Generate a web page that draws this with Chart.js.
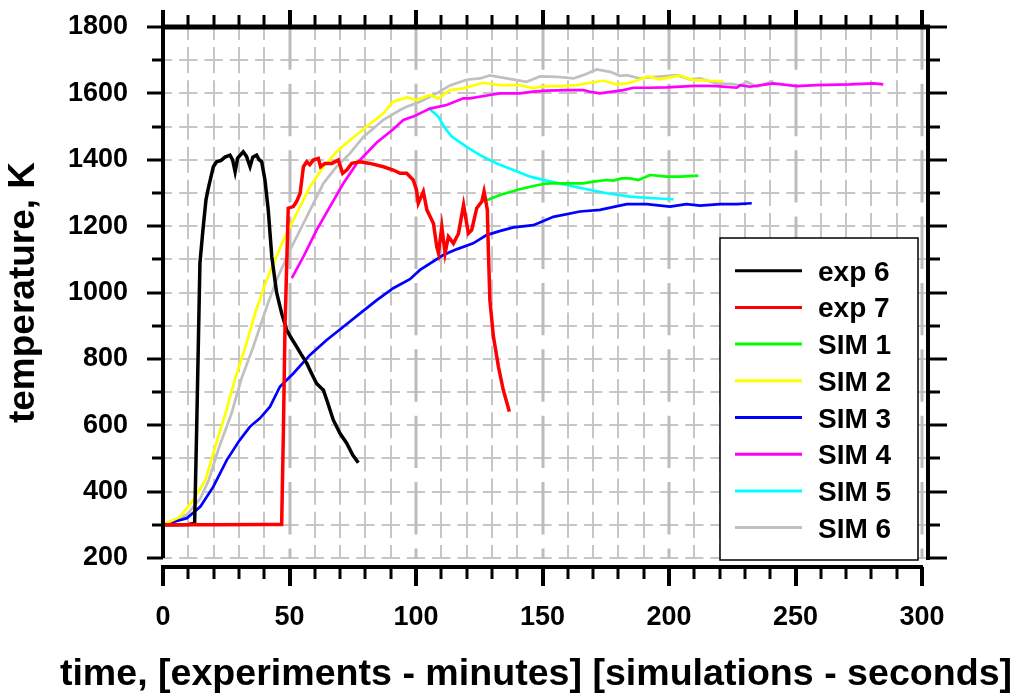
<!DOCTYPE html>
<html>
<head>
<meta charset="utf-8">
<title>temperature vs time</title>
<script src="https://cdn.jsdelivr.net/npm/chart.js@4.4.0/dist/chart.umd.min.js"></script>
<style>
    html, body { margin: 0; padding: 0; background: #fff; }
    #wrap { width: 1021px; height: 698px; position: relative; }
</style>
</head>
<body>
<div id="wrap"><canvas id="tempChart"></canvas></div>
<script>
    // Series (time, temperature K)
    const exp6Time = [0, 5, 10, 12.5, 13.3, 14.6, 15.9, 17, 17.9, 19.9, 21.2, 23, 24.5, 26.5, 27.5, 28.5, 29.5, 31.7, 33, 34.4, 35.5, 37, 38, 39, 40.3, 41.6, 43, 44.9, 46.9, 48.9, 50.5, 52.8, 54.5, 56.8, 58.5, 60.7, 62.5, 63.4, 65, 67.3, 70, 72.6, 75, 77.2];
    const exp6Temp = [300, 300, 301, 304, 586, 1089, 1198, 1280, 1314, 1379, 1394, 1398, 1408, 1414, 1400, 1364, 1405, 1424, 1410, 1379, 1408, 1414, 1400, 1394, 1339, 1249, 1108, 1000, 937, 887, 865, 837, 815, 787, 760, 726, 712, 706, 670, 616, 575, 546, 510, 487];

    const exp7Time = [0, 20, 40, 46.9, 47.6, 48.2, 49.5, 51.5, 52.8, 54.2, 55.5, 56.8, 58, 59.4, 61.4, 62.3, 64, 66.7, 69.3, 71, 72.6, 74.6, 77.9, 81.8, 87.1, 91, 93.7, 96.3, 98.9, 100.2, 100.9, 102.9, 104.3, 106.9, 108.2, 108.9, 110.2, 111.5, 112.8, 114.8, 116.8, 118.8, 120.7, 122, 124, 126, 126.9, 128.2, 128.6, 129.2, 130.6, 132.6, 134.5, 136.9];
    const exp7Temp = [300, 300, 301, 301, 586, 887, 1254, 1259, 1274, 1299, 1379, 1394, 1385, 1399, 1404, 1379, 1389, 1389, 1399, 1359, 1369, 1389, 1394, 1389, 1379, 1369, 1359, 1359, 1339, 1309, 1269, 1304, 1249, 1208, 1138, 1118, 1198, 1118, 1168, 1148, 1178, 1264, 1178, 1188, 1254, 1274, 1304, 1249, 1128, 977, 867, 776, 706, 641];

    const sim1Time = [126.6, 133.2, 139.8, 146.4, 150.3, 153, 162.2, 166.1, 170.1, 175.4, 178, 181.3, 184.6, 188, 192.5, 199.1, 204.3, 211.6];
    const sim1Temp = [1274, 1294, 1309, 1321, 1327, 1329, 1329, 1329, 1334, 1339, 1337, 1344, 1344, 1339, 1354, 1349, 1349, 1352];

    const sim2Time = [0, 6.7, 12, 16.8, 20, 24.7, 28.5, 32.6, 36.5, 41, 47.6, 52.8, 58.1, 63.4, 68.6, 73.9, 79.2, 87.1, 91, 96.3, 100.2, 105.5, 108.8, 113.4, 118.7, 126.6, 133.2, 137.2, 141.1, 146.4, 149, 153, 156.9, 163.5, 171.4, 174, 179.3, 183.3, 185.9, 191.8, 196.4, 204.3, 209.6, 212.3, 216.2, 221.5];
    const sim2Temp = [300, 324, 375, 435, 520, 636, 740, 837, 940, 1038, 1158, 1238, 1319, 1379, 1424, 1459, 1492, 1540, 1575, 1588, 1580, 1595, 1585, 1610, 1615, 1632, 1625, 1625, 1625, 1615, 1620, 1622, 1622, 1625, 1635, 1638, 1627, 1630, 1635, 1651, 1642, 1654, 1640, 1640, 1638, 1637];

    const sim3Time = [0, 9.4, 14.8, 19.9, 25.2, 30.4, 34.4, 38.3, 42.3, 46.2, 51.5, 58.1, 64.7, 71.3, 77.9, 84.5, 91, 97.6, 101.6, 110.8, 116, 122.6, 127.9, 133, 138.5, 146.4, 154.3, 164.8, 172.7, 183.3, 191.2, 200.4, 206.9, 212.3, 220.2, 226.8, 232.7];
    const sim3Temp = [300, 320, 355, 415, 495, 556, 596, 621, 656, 716, 756, 812, 857, 897, 937, 977, 1013, 1040, 1068, 1113, 1130, 1148, 1173, 1185, 1196, 1203, 1228, 1244, 1249, 1266, 1266, 1259, 1266, 1262, 1266, 1266, 1269];

    const sim4Time = [50.9, 55.5, 60.7, 66, 71.3, 76.6, 84.5, 91, 95, 98.9, 105.5, 112.1, 118.7, 121.3, 129.2, 133.2, 141.1, 146.4, 151.6, 159.6, 166.1, 168.8, 172.7, 181.9, 185.9, 192.5, 199.1, 208.3, 212.3, 218.8, 226.8, 228.1, 232, 241.2, 250.5, 258.4, 271.5, 280.8, 284.7];
    const sim4Temp = [1043, 1108, 1188, 1259, 1329, 1389, 1452, 1492, 1520, 1530, 1554, 1565, 1585, 1585, 1595, 1600, 1600, 1605, 1608, 1610, 1610, 1605, 1600, 1610, 1617, 1617, 1618, 1622, 1623, 1622, 1617, 1625, 1620, 1630, 1622, 1625, 1627, 1630, 1627];

    const sim5Time = [105.5, 108.8, 111.5, 114.1, 120, 125.3, 131.9, 138.5, 145.1, 151.6, 159.6, 167.5, 175.4, 184.6, 193.8, 201.8];
    const sim5Temp = [1552, 1530, 1495, 1470, 1439, 1414, 1389, 1369, 1349, 1337, 1324, 1311, 1299, 1289, 1284, 1281];

    const sim6Time = [0, 9.4, 14.8, 18.1, 22, 27.1, 31, 35.7, 41, 44.9, 50.2, 56.8, 63.4, 68.6, 73.9, 79.2, 87.1, 93.7, 96.3, 101.6, 105.5, 108.2, 113.4, 120, 125.3, 129.2, 135.8, 143.7, 149, 155.6, 162.2, 166.1, 171.4, 176.7, 180.6, 183.3, 188.5, 195.1, 203, 208.3, 212.3, 218.8, 225.4, 228.1, 230.7, 234.7, 241.2];
    const sim6Temp = [300, 330, 380, 435, 530, 636, 740, 837, 957, 1038, 1128, 1228, 1329, 1379, 1419, 1469, 1520, 1550, 1560, 1575, 1590, 1600, 1624, 1641, 1645, 1654, 1645, 1635, 1651, 1650, 1645, 1655, 1672, 1665, 1653, 1655, 1645, 1650, 1655, 1642, 1645, 1630, 1628, 1623, 1635, 1620, 1637];

    const seriesNames = ["exp 6", "exp 7", "SIM 1", "SIM 2", "SIM 3", "SIM 4", "SIM 5", "SIM 6"];
    const seriesColors = ["#000000", "#ff0000", "#00ff00", "#ffff00", "#0000ff", "#ff00ff", "#00ffff", "#c0c0c0"];
    const xTitle = "time, [experiments - minutes] [simulations - seconds]";
    const yTitle = "temperature, K";

    const FONT = "'Liberation Sans', Arial, Helvetica, sans-serif";

    function pts(t, v) {
        return t.map(function (tt, i) { return { x: tt, y: v[i] }; });
    }

    const allSeries = [
        pts(exp6Time, exp6Temp), pts(exp7Time, exp7Temp),
        pts(sim1Time, sim1Temp), pts(sim2Time, sim2Temp),
        pts(sim3Time, sim3Temp), pts(sim4Time, sim4Temp),
        pts(sim5Time, sim5Temp), pts(sim6Time, sim6Temp)
    ];
    // draw order: lower = on top
    const drawOrder = [1, 0, 4, 3, 5, 6, 7, 8];

    const datasets = allSeries.map(function (d, i) {
        return {
            label: seriesNames[i],
            data: d,
            borderColor: seriesColors[i],
            backgroundColor: seriesColors[i],
            borderWidth: i < 2 ? 3.5 : 2.7,
            pointRadius: 0,
            tension: 0,
            fill: false,
            order: drawOrder[i]
        };
    });

    // dashed grid, boxed axes with ticks, x title, legend box
    const framePlugin = {
        id: 'frame',
        beforeDatasetsDraw(chart) {
            const { ctx, chartArea: a, scales: { x, y } } = chart;
            const xs = x.getPixelForValue(10) - x.getPixelForValue(0);
            const ys = y.getPixelForValue(200) - y.getPixelForValue(300);
            ctx.save();
            ctx.beginPath();
            ctx.rect(a.left, a.top, a.right - a.left + 6, a.bottom - a.top + 1);
            ctx.clip();
            ctx.strokeStyle = '#c6c6c6';
            ctx.lineWidth = 2;

            let d = xs - 7;
            ctx.setLineDash([d, 7]);
            for (let v = 200; v <= 1800; v += 100) {
                const py = Math.round(y.getPixelForValue(v));
                ctx.beginPath();
                ctx.moveTo(a.left - d / 2, py);
                ctx.lineTo(a.right + 6, py);
                ctx.stroke();
            }

            d = ys - 7;
            ctx.setLineDash([d, 7]);
            for (let v = 10; v <= 300; v += 10) {
                if (v % 50 === 0) continue;
                const px = Math.round(x.getPixelForValue(v));
                ctx.beginPath();
                ctx.moveTo(px, a.top - d / 2);
                ctx.lineTo(px, a.bottom + 1);
                ctx.stroke();
            }

            ctx.strokeStyle = '#bcbcbc';
            ctx.lineWidth = 3;
            ctx.setLineDash([2 * ys - 14, 14]);
            for (let v = 50; v <= 300; v += 50) {
                const px = Math.round(x.getPixelForValue(v));
                ctx.beginPath();
                ctx.moveTo(px, a.top - 0.5 * ys + 7);
                ctx.lineTo(px, a.bottom + 1);
                ctx.stroke();
            }
            ctx.restore();
        },
        afterDraw(chart) {
            const { ctx, chartArea: a, scales: { x, y } } = chart;
            const bx = a.bottom + 9;
            const rx = a.right + 6;
            ctx.save();
            ctx.setLineDash([]);
            ctx.strokeStyle = '#000';

            function seg(x1, y1, x2, y2, w) {
                ctx.lineWidth = w;
                ctx.beginPath();
                ctx.moveTo(x1, y1);
                ctx.lineTo(x2, y2);
                ctx.stroke();
            }

            seg(a.left - 2, a.top, rx + 2, a.top, 5);
            seg(a.left, a.top, a.left, a.bottom, 4);
            seg(a.left - 2, bx, a.right + 1, bx, 4);
            seg(rx, a.top, rx, a.bottom + 2, 4);

            for (let v = 0; v <= 300; v += 10) {
                const px = Math.round(x.getPixelForValue(v));
                const major = v % 50 === 0;
                seg(px, a.top, px, a.top - (major ? 17 : 12), major ? 4 : 3);
                seg(px, bx, px, bx + (major ? 19 : 12), major ? 4 : 3);
            }
            for (let v = 200; v <= 1800; v += 100) {
                const py = Math.round(y.getPixelForValue(v));
                const major = v % 200 === 0;
                seg(a.left, py, a.left - (major ? 16 : 11), py, 3);
                seg(rx, py, rx + (major ? 19 : 12), py, 3);
            }

            // x title (drawn here so it is not squeezed to the axis width)
            ctx.fillStyle = '#000';
            ctx.font = 'bold 37.6px ' + FONT;
            ctx.textAlign = 'center';
            ctx.textBaseline = 'alphabetic';
            ctx.fillText(xTitle, 536, 685);

            // legend box
            const lx = 720, ly = 238, lw = 198, lh = 322;
            ctx.fillStyle = '#fff';
            ctx.fillRect(lx, ly, lw, lh);
            ctx.lineWidth = 1.5;
            ctx.strokeRect(lx, ly, lw, lh);
            ctx.font = 'bold 28px ' + FONT;
            ctx.textAlign = 'left';
            chart.data.datasets.forEach(function (ds, i) {
                const cy = 270.7 + i * 36.7;
                ctx.strokeStyle = ds.borderColor;
                seg(735, cy, 802, cy, 3);
                ctx.fillStyle = '#000';
                ctx.fillText(ds.label, 818, cy + 10);
            });
            ctx.restore();
        }
    };

    var ctx1 = document.getElementById('tempChart').getContext('2d');
    var tempChart = new Chart(ctx1, {
        type: 'line',
        data: { datasets: datasets },
        options: {
            responsive: true,
            maintainAspectRatio: false,
            animation: false,
            devicePixelRatio: 1,
            layout: { padding: { left: 0, top: 27, right: 99, bottom: 0 } },
            plugins: {
                legend: { display: false },
                tooltip: { enabled: false }
            },
            scales: {
                x: {
                    type: 'linear',
                    min: 0,
                    max: 300,
                    grid: { display: false, drawTicks: false },
                    border: { display: false },
                    ticks: {
                        stepSize: 50,
                        autoSkip: false,
                        maxRotation: 0,
                        padding: 43,
                        color: '#000',
                        font: { family: FONT, size: 27, weight: 'bold' },
                        callback: function (v) { return String(v); }
                    },
                    afterFit: function (s) {
                        s.height = 140;
                        s.paddingLeft = 0;
                        s.paddingRight = 0;
                    }
                },
                y: {
                    type: 'linear',
                    min: 200,
                    max: 1800,
                    grid: { display: false, drawTicks: false },
                    border: { display: false },
                    ticks: {
                        stepSize: 200,
                        autoSkip: false,
                        padding: 35,
                        color: '#000',
                        font: { family: FONT, size: 27, weight: 'bold' },
                        callback: function (v) { return String(v); }
                    },
                    title: {
                        display: true,
                        text: yTitle,
                        color: '#000',
                        padding: { top: 2, bottom: 0 },
                        font: { family: FONT, size: 37, weight: 'bold' }
                    },
                    afterFit: function (s) {
                        s.width = 163;
                        s.paddingTop = 0;
                        s.paddingBottom = 0;
                    }
                }
            }
        },
        plugins: [framePlugin]
    });
</script>
</body>
</html>
